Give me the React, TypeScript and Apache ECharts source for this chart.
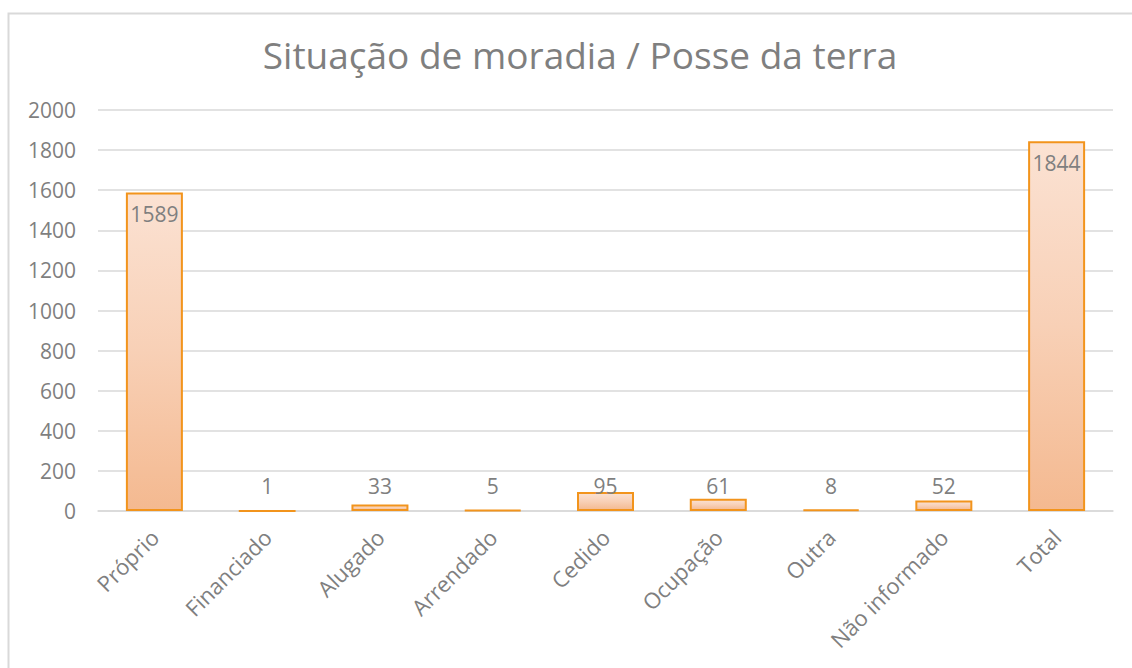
import React, { useEffect, useRef } from "react";
import * as echarts from "echarts";

const categories = ["Próprio", "Financiado", "Alugado", "Arrendado", "Cedido", "Ocupação", "Outra", "Não informado", "Total"];
const values = [1589, 1, 33, 5, 95, 61, 8, 52, 1844];
const insideLabels = ["Próprio", "Total"];
const yMin = 0;
const yMax = 2000;
const yStep = 200;
const titleText = "Situação de moradia / Posse da terra";

const FONT = "'Open Sans', 'Noto Sans', sans-serif";
const GRAY = "#7f7f7f";

export default function App() {
  const ref = useRef<HTMLDivElement>(null);
  useEffect(() => {
    if (!ref.current) return;
    const chart = echarts.init(ref.current, undefined, { renderer: "svg" });
    const fill = new echarts.graphic.LinearGradient(0, 0, 0, 1, [
      { offset: 0, color: "#fbe2d3" },
      { offset: 0.5, color: "#f8d0b6" },
      { offset: 1, color: "#f4b990" },
    ]);
    const data = values.map((v, i) => {
      const inside = insideLabels.includes(categories[i]);
      return {
        value: v,
        label: inside
          ? { position: "insideTop", distance: 11 }
          : { position: "insideBottom", distance: 15 },
      };
    });
    chart.setOption({
      animation: false,
      textStyle: { fontFamily: FONT },
      title: {
        text: titleText,
        left: 575,
        textAlign: "center",
        top: 31,
        textStyle: { fontFamily: FONT, fontSize: 37, fontWeight: "normal", color: GRAY },
      },
      graphic: [
        {
          type: "rect",
          shape: { x: 8.5, y: 13.5, width: 1300, height: 800 },
          style: { fill: "none", stroke: "#d9d9d9", lineWidth: 2 },
          silent: true,
        },
      ],
      grid: { left: 98, right: 19, top: 110, bottom: 157, containLabel: false },
      xAxis: {
        type: "category",
        data: categories,
        axisLine: { show: true, lineStyle: { color: "#d9d9d9", width: 1.5 } },
        axisTick: { show: false },
        axisLabel: { rotate: 45, fontSize: 22, color: GRAY, fontFamily: FONT, margin: 22, interval: 0 },
      },
      yAxis: {
        type: "value",
        min: yMin,
        max: yMax,
        interval: yStep,
        axisLine: { show: false },
        axisTick: { show: false },
        splitLine: { lineStyle: { color: "#d9d9d9", width: 1.5 } },
        axisLabel: { fontSize: 21, color: GRAY, fontFamily: FONT, margin: 22, formatter: (v: number) => String(v) },
      },
      series: [
        {
          type: "bar",
          data,
          barWidth: 57,
          itemStyle: { color: fill, borderColor: "#f2941c", borderWidth: 2 },
          label: { show: true, fontSize: 21, color: GRAY, fontFamily: FONT },
        },
      ],
    });
    return () => chart.dispose();
  }, []);
  return (
    <div style={{ position: "fixed", left: 0, top: 0, width: 1132, height: 668, overflow: "hidden", background: "#fff" }}>
      <div ref={ref} style={{ width: 1132, height: 668 }} />
    </div>
  );
}
